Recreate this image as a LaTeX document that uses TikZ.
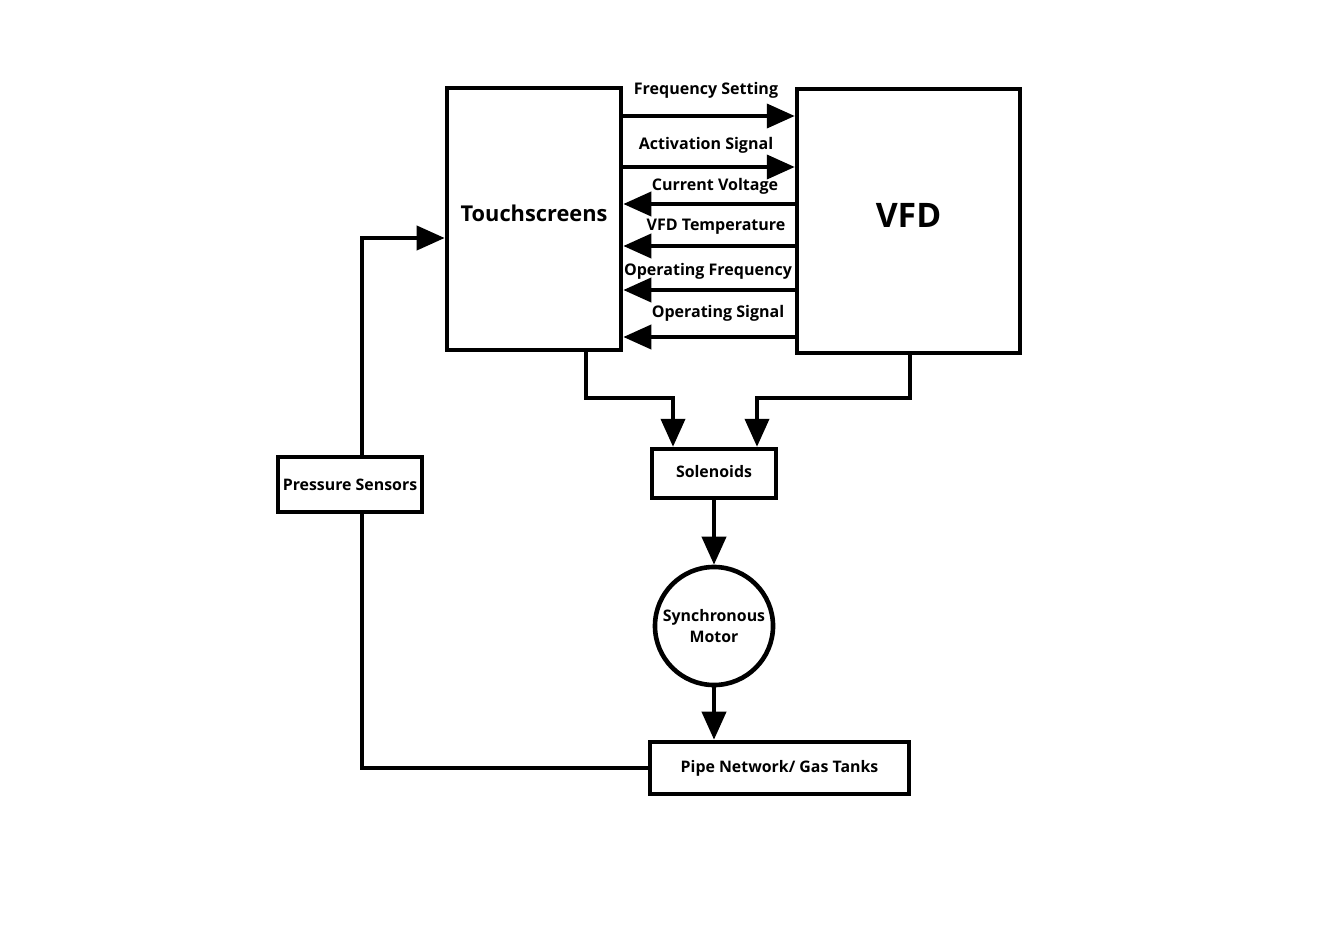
\documentclass[tikz,border=0pt]{standalone}
\usepackage{fontspec}
\setmainfont{Open Sans}
\usetikzlibrary{arrows.meta}

\tikzset{
  box/.style={draw, line width=0.115cm, inner sep=0pt, font=\bfseries\fontsize{11.3}{14}\selectfont},
  sig/.style={line width=0.1cm, -{Triangle[length=0.7cm,width=0.6cm]}},
  wire/.style={line width=0.1cm},
  lbl/.style={font=\bfseries\fontsize{11.4}{12}\selectfont, inner sep=0pt}
}

\begin{document}
\begin{tikzpicture}[x=0.025cm, y=-0.025cm]
\useasboundingbox (0,0) rectangle (1320,933);
%\draw[step=50,gray,very thin] (0,0) grid (1320,933); %background grid
% blocks
\node[box, minimum width=4.35cm, minimum height=6.55cm, font=\bfseries\fontsize{15.5}{16}\selectfont] (touch) at (534,219) {\raisebox{0.3cm}{Touchscreens}};
\node[box, minimum width=5.57cm, minimum height=6.6cm, font=\bfseries\fontsize{24}{26}\selectfont] (vfd) at (908.5,221) {\raisebox{0.3cm}{VFD}};
\node[box, minimum width=3.1cm, minimum height=1.22cm] (sol) at (714,473.5) {\raisebox{0.1cm}{Solenoids}};
\node[box, circle, minimum size=2.95cm, align=center, font=\bfseries\fontsize{11.3}{15.5}\selectfont] (motor) at (714,626) {Synchronous\\Motor};
\node[box, minimum width=6.48cm, minimum height=1.3cm] (pipe) at (779.5,768) {Pipe Network/ Gas Tanks};
\node[box, minimum width=3.6cm, minimum height=1.37cm] (press) at (350,484.5) {Pressure Sensors};
% signals touchscreens <-> vfd
\draw[sig] (touch.east |- 0,116) -- (vfd.west |- 0,116);
\draw[sig] (touch.east |- 0,167) -- (vfd.west |- 0,167);
\draw[sig] (vfd.west |- 0,204) -- (touch.east |- 0,204);
\draw[sig] (vfd.west |- 0,246) -- (touch.east |- 0,246);
\draw[sig] (vfd.west |- 0,290) -- (touch.east |- 0,290);
\draw[sig] (vfd.west |- 0,337) -- (touch.east |- 0,337);
\node[lbl] (fset) at (706,90) {Frequency Setting};
\node[lbl] (act) at (706,145) {Activation Signal};
\node[lbl] (curv) at (715,186) {Current Voltage};
\node[lbl] (temp) at (716,227) {VFD Temperature};
\node[lbl] (opfreq) at (708,271) {Operating Frequency};
\node[lbl] (opsig) at (718,313) {Operating Signal};
% to solenoids
\draw[sig] (touch.south -| 586,0) -- (586,398) -- (673,398) -- (sol.north -| 673,0);
\draw[sig] (vfd.south -| 910,0) -- (910,398) -- (757,398) -- (sol.north -| 757,0);
\draw[sig] (sol.south) -- (motor.north);
\draw[sig] (motor.south) -- (pipe.north -| motor.south);
% feedback loop
\draw[wire] (pipe.west) -- (362,768) -- (press.south -| 362,0);
\draw[sig] (press.north -| 362,0) -- (362,238) -- (touch.west |- 0,238);
\end{tikzpicture}
\end{document}
